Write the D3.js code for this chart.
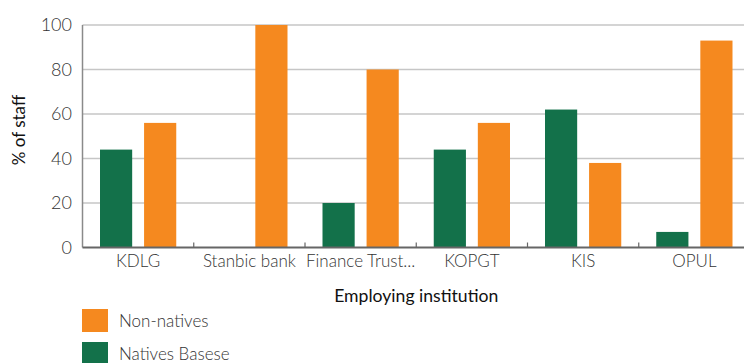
<!DOCTYPE html>
<html>
<head>
<meta charset="utf-8">
<script src="https://cdn.jsdelivr.net/npm/d3@7"></script>
<style>
  html, body { margin: 0; padding: 0; background: #fff; }
  svg { display: block; font-family: "Lato", "Open Sans", sans-serif; }
</style>
</head>
<body>
<svg id="chart" width="744" height="363"></svg>
<script>
// Share of staff by employing institution, natives vs non-natives
const categories = ["KDLG", "Stanbic bank", "Finance Trust...", "KOPGT", "KIS", "OPUL"];
const nativesBasese = [44, 0, 20, 44, 62, 7];
const nonNatives = [56, 100, 80, 56, 38, 93];
const yTicks = [0, 20, 40, 60, 80, 100];
const seriesNames = ["Natives Basese", "Non-natives"];
const seriesColors = ["#13714A", "#F5891F"];

const svg = d3.select("#chart");
const margin = { left: 82.5, top: 25, bottom: 115.5 };
const plotW = 667.5;              // six bands, the last runs off the right edge
const plotH = 363 - margin.top - margin.bottom;

const x = d3.scaleBand().domain(categories).range([margin.left, margin.left + plotW]);
const inner = d3.scaleBand().domain(seriesNames).range([17.5, x.bandwidth() - 17.5]).paddingInner(0.27);
const y = d3.scaleLinear().domain([0, 100]).range([margin.top + plotH, margin.top]);

// horizontal gridlines
svg.append("g")
  .selectAll("line")
  .data(yTicks.slice(1))
  .join("line")
  .attr("x1", margin.left).attr("x2", 744)
  .attr("y1", d => y(d)).attr("y2", d => y(d))
  .attr("stroke", "#c6c6c6").attr("stroke-width", 1.5);

// left axis line
svg.append("line")
  .attr("x1", margin.left).attr("x2", margin.left)
  .attr("y1", y(100)).attr("y2", y(0))
  .attr("stroke", "#8a8a8a").attr("stroke-width", 1.5);

// y tick labels
svg.append("g")
  .selectAll("text")
  .data(yTicks)
  .join("text")
  .attr("x", 72).attr("y", d => y(d))
  .attr("dy", "0.36em")
  .attr("text-anchor", "end")
  .attr("font-size", 18)
  .attr("font-weight", 300)
  .attr("fill", "#333")
  .text(d => d);

// bars
const series = [nativesBasese, nonNatives];
const groups = svg.append("g")
  .selectAll("g")
  .data(categories)
  .join("g")
  .attr("transform", d => `translate(${x(d)},0)`);

groups.selectAll("rect")
  .data((c, i) => seriesNames.map((s, k) => ({ s, v: series[k][i], color: seriesColors[k] })))
  .join("rect")
  .attr("x", d => inner(d.s))
  .attr("width", inner.bandwidth())
  .attr("y", d => y(d.v))
  .attr("height", d => y(0) - y(d.v))
  .attr("fill", d => d.color);

// bottom axis with inward ticks at band boundaries
svg.append("line")
  .attr("x1", margin.left).attr("x2", 744)
  .attr("y1", y(0)).attr("y2", y(0))
  .attr("stroke", "#666").attr("stroke-width", 2);

svg.append("g")
  .selectAll("line")
  .data(categories.slice(1))
  .join("line")
  .attr("x1", d => x(d)).attr("x2", d => x(d))
  .attr("y1", y(0)).attr("y2", y(0) - 5)
  .attr("stroke", "#666").attr("stroke-width", 1.2);

// category labels
svg.append("g")
  .selectAll("text")
  .data(categories)
  .join("text")
  .attr("x", d => x(d) + x.bandwidth() / 2)
  .attr("y", 267)
  .attr("text-anchor", "middle")
  .attr("font-size", 17)
  .attr("font-weight", 300)
  .attr("fill", "#333")
  .text(d => d);

// axis titles
svg.append("text")
  .attr("x", margin.left + 3 * x.bandwidth())
  .attr("y", 302)
  .attr("text-anchor", "middle")
  .attr("font-size", 17.6)
  .attr("fill", "#111")
  .text("Employing institution");

svg.append("text")
  .attr("transform", "translate(25,130) rotate(-90)")
  .attr("text-anchor", "middle")
  .attr("font-size", 17)
  .attr("fill", "#111")
  .text("% of staff");

// legend
const legendItems = [
  { name: "Non-natives", color: seriesColors[1] },
  { name: "Natives Basese", color: seriesColors[0] }
];
const legend = svg.append("g")
  .selectAll("g")
  .data(legendItems)
  .join("g")
  .attr("transform", (d, i) => `translate(82,${309 + i * 33})`);
legend.append("rect")
  .attr("width", 26).attr("height", 23)
  .attr("fill", d => d.color);
legend.append("text")
  .attr("x", 37).attr("y", 11.5)
  .attr("dy", "0.36em")
  .attr("font-size", 17)
  .attr("font-weight", 300)
  .attr("fill", "#333")
  .text(d => d.name);
</script>
</body>
</html>
